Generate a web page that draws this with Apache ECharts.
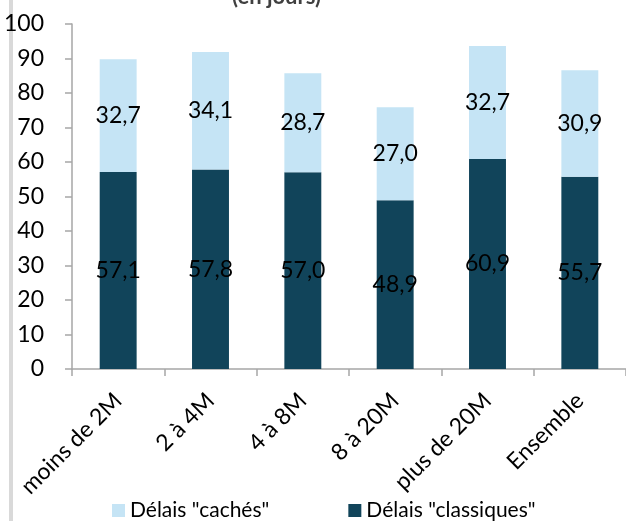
<!DOCTYPE html>
<html>
<head>
<meta charset="utf-8">
<script src="https://cdn.jsdelivr.net/npm/echarts@6/dist/echarts.min.js"></script>
<style>html,body{margin:0;padding:0;background:#fff;}#c{width:626px;height:521px;}</style>
</head>
<body>
<div id="c"></div>
<script>
var categories = ['moins de 2M', '2 à 4M', '4 à 8M', '8 à 20M', 'plus de 20M', 'Ensemble'];
var delaisClassiques = [57.1, 57.8, 57.0, 48.9, 60.9, 55.7];
var delaisCaches = [32.7, 34.1, 28.7, 27.0, 32.7, 30.9];
var yTicks = { min: 0, max: 100, interval: 10 };

var FONT = 'Lato';
var DARK = '#11445a', LIGHT = '#c5e4f5';
function fmt(p) { return p.value.toFixed(1).replace('.', ','); }

var chart = echarts.init(document.getElementById('c'), null, { renderer: 'canvas' });
chart.setOption({
  animation: false,
  backgroundColor: '#ffffff',
  title: {
    text: '(en jours)',
    left: 227, top: -19,
    textStyle: { fontFamily: FONT, fontSize: 22, fontWeight: 'bold', color: '#404040' }
  },
  graphic: [{ type: 'rect', shape: { x: 9, y: 0, width: 4, height: 521 }, style: { fill: '#d9d9d9' } }],
  grid: { left: 72, right: -5, top: 24, bottom: 152, containLabel: false },
  legend: {
    data: ['Délais "cachés"', 'Délais "classiques"'],
    left: 112, top: 500, padding: 0,
    itemWidth: 13, itemHeight: 13, itemGap: 79,
    icon: 'rect',
    textStyle: { fontFamily: FONT, fontSize: 21, color: '#000' }
  },
  xAxis: {
    type: 'category',
    data: categories,
    axisLine: { lineStyle: { color: '#a6a6a6', width: 1.5 } },
    axisTick: { show: true, length: 7, lineStyle: { color: '#a6a6a6', width: 1.5 } },
    axisLabel: { rotate: 45, margin: 28, fontFamily: FONT, fontSize: 23, color: '#000' }
  },
  yAxis: {
    type: 'value',
    min: yTicks.min, max: yTicks.max, interval: yTicks.interval,
    splitLine: { show: false },
    axisLine: { show: true, lineStyle: { color: '#a6a6a6', width: 1.5 } },
    axisTick: { show: true, length: 7, lineStyle: { color: '#a6a6a6', width: 1.5 } },
    axisLabel: { margin: 28, fontFamily: FONT, fontSize: 23, color: '#000' }
  },
  series: [
    {
      name: 'Délais "classiques"', type: 'bar', stack: 'total', data: delaisClassiques,
      barWidth: '40%',
      itemStyle: { color: DARK },
      label: { show: true, position: 'inside', formatter: fmt, fontFamily: FONT, fontSize: 23, color: '#000' }
    },
    {
      name: 'Délais "cachés"', type: 'bar', stack: 'total', data: delaisCaches,
      barWidth: '40%',
      itemStyle: { color: LIGHT },
      label: { show: true, position: 'inside', formatter: fmt, fontFamily: FONT, fontSize: 23, color: '#000' }
    }
  ]
});
</script>
</body>
</html>
